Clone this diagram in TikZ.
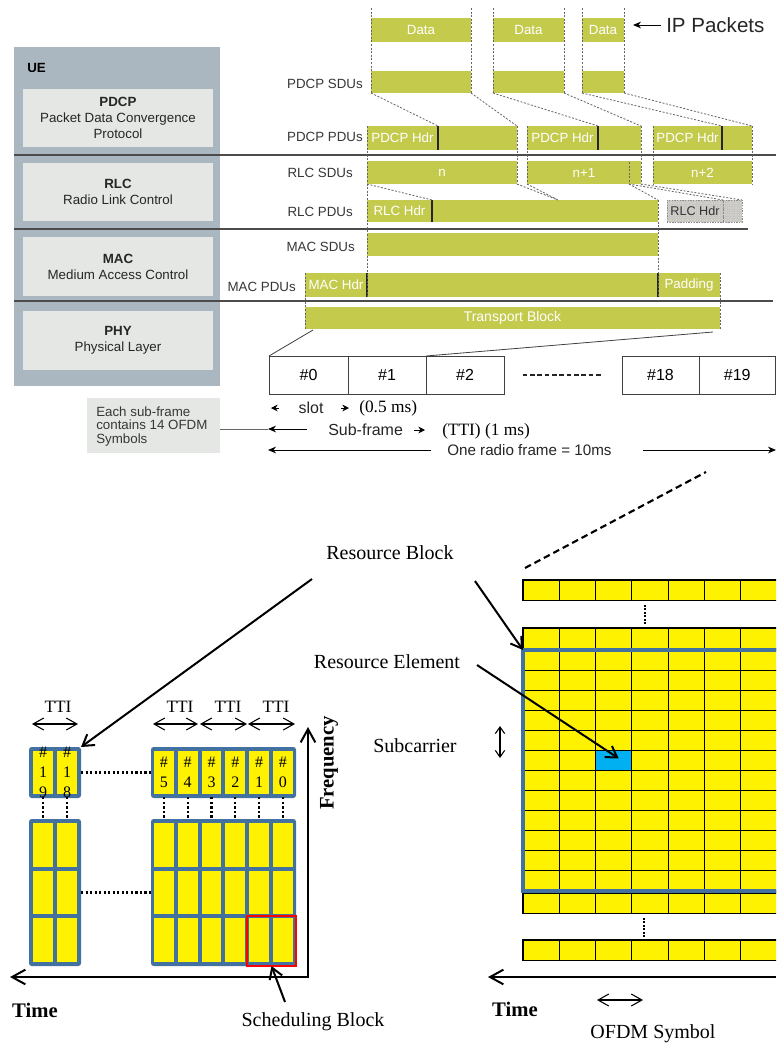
\documentclass[tikz,border=0pt]{standalone}
\usepackage{fontspec}
\setmainfont{Liberation Sans}
\newfontfamily\tnr{Liberation Serif}
\usetikzlibrary{arrows.meta,fit,calc}
\definecolor{lteg}{RGB}{196,202,76}
\definecolor{uegrey}{RGB}{170,183,192}
\definecolor{boxgrey}{RGB}{228,231,228}
\definecolor{rbblue}{RGB}{68,114,160}
\definecolor{reblue}{RGB}{0,176,240}
\definecolor{hatchc}{RGB}{214,208,196}
\definecolor{txtgrey}{RGB}{55,55,55}
\newcommand\fs[1]{\fontsize{#1}{#1}\selectfont}
\newcommand\bx[7]{\node[inner sep=0pt,outer sep=0pt,#6,fit={(#2,#3)(#4,#5)}] (#1) {};
  \node[inner sep=0pt,#6,fill=none,draw=none] (#1-t) at (#1.center) {#7};}
\tikzset{
  gb/.style={fill=lteg,text=white,font={\fs{10}}},
  lab/.style={text=txtgrey,font={\fs{10}},inner sep=0pt},
  dsh/.style={draw=black!60,dash pattern=on 1.5pt off 1.2pt,line width=0.6pt},
  sepl/.style={draw=black!70,line width=1.1pt},
  div/.style={draw=black!85,line width=0.9pt},
  sf/.style={draw=black!75,line width=0.6pt,fill=white,font={\fs{12}}},
  lay/.style={fill=boxgrey,align=center,font={\fs{10}},text=black!85},
  ser/.style={font={\tnr\fs{15}},inner sep=0pt},
  serb/.style={font={\tnr\bfseries\fs{15.5}},inner sep=0pt},
  cell/.style={fill=yellow,draw=black,line width=0.8pt},
  cellnum/.style={font={\tnr\fontsize{12}{15}\selectfont},align=center,inner sep=0pt},
  dots/.style={draw=black,line width=1.6pt,dash pattern=on 1.6pt off 1.8pt},
  bigarr/.style={draw=black,line width=1.5pt,-{Straight Barb[length=8pt,width=10pt]}},
  axis/.style={draw=black,line width=1.5pt,{Straight Barb[length=10pt,width=11pt]}-{Straight Barb[length=10pt,width=11pt]}},
  tti/.style={draw=black,line width=0.8pt,{Straight Barb[length=8pt,width=9pt]}-{Straight Barb[length=8pt,width=9pt]}},
  smallhead/.style={draw=black,line width=0.6pt,-{Stealth[length=5pt,width=5pt]}},
}
\begin{document}
\begin{tikzpicture}[x=0.75pt,y=-0.75pt]
\useasboundingbox (0,0) rectangle (776,1046);
\begin{scope}
\clip (0,0) rectangle (776,1046);
\fill[white] (0,0) rectangle (776,1046);

% ---------------- protocol stack ----------------
\bx{ue}{14}{47}{220}{386}{fill=uegrey}{}
\node[font={\bfseries\fs{10}},anchor=west,inner sep=0pt] (uel) at (27,68) {UE};
\bx{pdcp}{23}{89}{213}{147}{lay}{{\bfseries PDCP}\\[2pt]Packet Data Convergence\\[2pt]Protocol}
\bx{rlc}{23}{163}{213}{221}{lay}{{\bfseries RLC}\\[2pt]Radio Link Control}
\bx{mac}{23}{237}{213}{296}{lay}{{\bfseries MAC}\\[2pt]Medium Access Control}
\bx{phy}{23}{311}{213}{370}{lay}{{\bfseries PHY}\\[2pt]Physical Layer}

\draw[sepl] (14,155) -- (776,155);
\draw[sepl] (14,229) -- (748,229);
\draw[sepl] (14,301) -- (773,301);

\node[lab,anchor=east] (l1) at (363,84) {PDCP SDUs};
\node[lab,anchor=east] (l2) at (363,137) {PDCP PDUs};
\node[lab,anchor=east] (l3) at (353,173) {RLC SDUs};
\node[lab,anchor=east] (l4) at (353,212) {RLC PDUs};
\node[lab,anchor=east] (l5) at (355,247) {MAC SDUs};
\node[lab,anchor=east] (l6) at (296,287) {MAC PDUs};

% IP packets
\bx{d1}{371}{18}{471}{42}{gb}{Data}
\bx{d2}{493}{18}{564}{42}{gb}{Data}
\bx{d3}{582}{18}{624}{42}{gb}{Data}
\node[font={\fs{15.4}},anchor=west,inner sep=0pt,text=black!85] (ip) at (666,25) {IP Packets};
\coordinate (ipa) at (633,25);
\draw[black,line width=0.7pt,-{Stealth[length=6pt,width=5pt]}] ($(ip.west)+(-5,0)$) -- (ipa);

% PDCP SDUs
\bx{s1}{371}{71}{471}{93}{gb}{}
\bx{s2}{493}{71}{564}{93}{gb}{}
\bx{s3}{582}{71}{624}{93}{gb}{}

% PDCP PDUs
\bx{h1}{367}{126}{438}{150}{gb}{PDCP Hdr}
\bx{p1}{438}{126}{517}{150}{gb}{}
\bx{h2}{527}{126}{598}{150}{gb}{PDCP Hdr}
\bx{p2}{598}{126}{641}{150}{gb}{}
\bx{h3}{653}{126}{722}{150}{gb}{PDCP Hdr}
\bx{p3}{722}{126}{752}{150}{gb}{}
\foreach \h in {h1,h2,h3} \draw[div] (\h.north east) -- (\h.south east);

% RLC SDUs
\bx{r1}{367}{161}{517}{184}{gb}{n}
\bx{r2}{527}{161}{641}{184}{gb}{n+1}
\bx{r3}{653}{161}{752}{184}{gb}{n+2}

% RLC PDUs
\bx{rh1}{367}{200}{432}{222}{gb}{RLC Hdr}
\bx{rp1}{432}{200}{658}{222}{gb}{}
\draw[div] (rh1.north east) -- (rh1.south east);
\node[inner sep=0pt,outer sep=0pt,fill=hatchc,fit={(667,200)(742,222)}] (rgrey) {};
\begin{scope}
\clip (667,200) rectangle (742,222);
\draw[black!22,line width=0.3pt,step=1.8pt] (660,195) grid (750,230);
\end{scope}
\bx{rh2}{667}{200}{723}{222}{draw=black!45,dash pattern=on 1pt off 1pt,font={\fs{9.5}},text=black!80}{RLC Hdr}
\bx{rp2}{723}{200}{742}{222}{draw=black!45,dash pattern=on 1pt off 1pt}{}

% MAC
\bx{m1}{367}{233}{658}{256}{gb}{}
\bx{mh}{305}{273}{367}{297}{gb}{MAC Hdr}
\bx{mp}{367}{273}{658}{297}{gb}{}
\bx{pad}{658}{273}{720}{297}{gb}{Padding}
\draw[div] (mh.north east) -- (mh.south east);
\draw[div] (pad.north west) -- (pad.south west);

% PHY
\bx{tb}{305}{307}{720}{329}{gb,font={\fs{10.5}}}{Transport Block}

% dashed guides
\draw[dsh] ($(d1.north west)+(0,-10)$) -- (s1.south west);
\draw[dsh] ($(d1.north east)+(0,-10)$) -- (s1.south east);
\draw[dsh] ($(d2.north west)+(0,-10)$) -- (s2.south west);
\draw[dsh] ($(d2.north east)+(0,-10)$) -- (s2.south east);
\draw[dsh] ($(d3.north west)+(0,-10)$) -- (s3.south west);
\draw[dsh] ($(d3.north east)+(0,-10)$) -- (s3.south east);
\draw[dsh] (s1.south west) -- (h1.north east);
\draw[dsh] (s1.south east) -- (p1.north east);
\draw[dsh] (s2.south west) -- (h2.north east);
\draw[dsh] (s2.south east) -- (p2.north east);
\draw[dsh] (s3.south west) -- (h3.north east);
\draw[dsh] (s3.south east) -- (p3.north east);
\draw[dsh] (h1.north west) -- (mh.south east);
\draw[dsh] (p1.north east) -- (r1.south east);
\draw[dsh] (h2.north west) -- (r2.south west);
\draw[dsh] (p2.north east) -- (r2.south east);
\draw[dsh] (h3.north west) -- (r3.south west);
\draw[dsh] (p3.north east) -- (r3.south east);
\coordinate (segt) at (629,162);
\coordinate (segb) at (629,184);
\coordinate (rmid) at (558,200);
\draw[dsh] (segt) -- (segb);
\draw[dsh] (r1.south west) -- (rh1.north east);
\draw[dsh] (r1.south east) -- (rmid);
\draw[dsh] (r2.south west) -- (rmid);
\draw[dsh] (segb) -- (rp1.north east);
\draw[dsh] (segb) -- (rp2.north west);
\draw[dsh] (r2.south east) -- (rp2.north east);
\draw[dsh] (rp1.north east) -- (pad.south west);
\draw[dsh] (mh.north west) -- (tb.south west);
\draw[dsh] (pad.north east) -- (tb.south east);

% sub-frames
\bx{sf0}{269}{356}{348}{394}{sf}{\#0}
\bx{sf1}{348}{356}{426}{394}{sf}{\#1}
\bx{sf2}{426}{356}{504}{394}{sf}{\#2}
\bx{sf18}{622}{356}{699}{394}{sf}{\#18}
\bx{sf19}{699}{356}{775.5}{394}{sf}{\#19}
\draw[black!75,line width=0.6pt] ($(tb.south west)+(8,1)$) -- (sf0.north west);
\draw[black!75,line width=0.6pt] ($(tb.south east)+(-7,3)$) -- (sf1.north east);
\draw[black!85,line width=2pt,dash pattern=on 3.5pt off 2pt,shorten <=14pt,shorten >=15pt] (sf2.east) -- (sf18.west);

% timing labels
\node[font={\fs{12}},inner sep=0pt,text=black!85] (slot) at (311,408) {slot};
\draw[smallhead] (279,408) -- (271,408);
\draw[smallhead] (341,408) -- (349,408);
\node[font={\tnr\fs{13}},anchor=west,inner sep=0pt] (half) at (359,408) {(0.5 ms)};

\bx{note}{87}{398}{220}{453}{fill=boxgrey}{}
\node[anchor=west,align=left,font={\fs{10}},inner sep=0pt,text=txtgrey] (notet) at (96,426.5) {\fontsize{10}{11.6}\selectfont Each sub-frame\\contains 14 OFDM\\Symbols};
\coordinate (nc) at (220,429);
\coordinate (sfa) at (268,429);
\draw[black!60,line width=0.6pt] (nc) -- (sfa);
\draw[black,line width=0.6pt,-{Stealth[length=6pt,width=5pt]}] (307,429) -- (sfa);
\node[font={\fs{12}},anchor=west,inner sep=0pt,text=black!85] (subf) at (328,430) {Sub-frame};
\draw[smallhead] (414,430) -- (425,430);
\node[font={\tnr\fs{13}},anchor=west,inner sep=0pt] (tti1) at (442,431) {(TTI) (1 ms)};

\node[font={\fs{11.4}},anchor=west,inner sep=0pt,text=black!85] (orf) at (447,450) {One radio frame = 10ms};
\draw[black,line width=0.6pt,-{Stealth[length=6pt,width=5pt]}] (431,450) -- (268,450);
\draw[black,line width=0.6pt,-{Stealth[length=6pt,width=5pt]}] (643,450) -- (776,450);

% ---------------- resource grid (left) ----------------
\bx{tl}{29}{747}{81}{798}{fill=rbblue,rounded corners=2pt}{}
\bx{tr}{151}{747}{296}{798}{fill=rbblue,rounded corners=2pt}{}
\bx{bl}{29}{819}{81}{966}{fill=rbblue,rounded corners=2pt}{}
\bx{br}{151}{819}{296}{966}{fill=rbblue,rounded corners=2pt}{}
\foreach \i/\a/\b in {0/1/9,1/1/8}{
  \bx{tlc\i}{33+24*\i}{751}{53+24*\i}{794}{fill=yellow}{}
  \node[cellnum] at (tlc\i) {\#\\\a\\\b};
}
\foreach \i/\d in {0/5,1/4,2/3,3/2,4/1,5/0}{
  \bx{trc\i}{154+23.8*\i}{751}{173.8+23.8*\i}{794}{fill=yellow}{}
  \node[cellnum] at (trc\i) {\#\\\d};
}
\foreach \j in {0,1,2}{
  \foreach \i in {0,1}{
    \bx{blc\i-\j}{33+24*\i}{823+47.65*\j}{53+24*\i}{866.7+47.65*\j}{fill=yellow}{}
  }
  \foreach \i in {0,...,5}{
    \bx{brc\i-\j}{154+23.8*\i}{823+47.65*\j}{173.8+23.8*\i}{866.7+47.65*\j}{fill=yellow}{}
  }
}
\foreach \i in {0,1} \draw[dots,shorten <=2.5pt,shorten >=2.5pt] (tlc\i.south) -- (blc\i-0.north);
\foreach \i in {0,...,5} \draw[dots,shorten <=2.5pt,shorten >=2.5pt] (trc\i.south) -- (brc\i-0.north);
\draw[dots] (tl.east) -- (tr.west);
\draw[dots] (bl.east) -- (br.west);
\bx{red}{247}{916}{296}{966}{draw=red,line width=2.2pt}{}

\node[font={\tnr\fs{13}},inner sep=0pt] (t0) at (58,707) {TTI};
\node[font={\tnr\fs{13}},inner sep=0pt] (t1) at (180,707) {TTI};
\node[font={\tnr\fs{13}},inner sep=0pt] (t2) at (228,707) {TTI};
\node[font={\tnr\fs{13}},inner sep=0pt] (t3) at (276,707) {TTI};
\draw[tti] (32,724) -- (78,724);
\draw[tti] (153,724) -- (198,724);
\draw[tti] (200,724) -- (247,724);
\draw[tti] (248,724) -- (295,724);

\coordinate (orig) at (308,977);
\draw[axis] (308,727) -- (orig) -- (10,977);
\node[serb] (timel) at (35,1010) {Time};
\node[serb,rotate=90] (freq) at (329,763) {Frequency};
\node[ser] (sbt) at (313,1022) {Scheduling Block};
\coordinate (sbs) at (285,1002);
\draw[bigarr] (sbs) -- (red.south);

% ---------------- resource grid (right) ----------------
\foreach \y in {580,628,893,940}{
  \foreach \i in {0,...,7} \draw[cell] ({523+36.3*\i},\y) rectangle ++(36.3,20.5);
}
\foreach \j in {0,...,11}{
  \foreach \i in {0,...,7} \draw[cell] ({523+36.3*\i},{650+20.08*\j}) rectangle ++(36.3,20.08);
}
\bx{re}{595.6}{750.4}{631.9}{770.5}{fill=reblue,draw=black,line width=0.8pt}{}
\bx{rb}{523}{650}{800}{891}{draw=rbblue,line width=2.8pt}{}
\draw[black,line width=1.3pt,dash pattern=on 1.3pt off 1.3pt] (645,605) -- (645,625);
\draw[black,line width=1.3pt,dash pattern=on 1.3pt off 1.3pt] (644,918) -- (644,938);

\coordinate (dl1) at (525,568);
\coordinate (dl2) at (706,472);
\draw[black,line width=1.6pt,dash pattern=on 5pt off 3pt] (dl1) -- (dl2);

\node[ser] (rbt) at (390,553) {Resource Block};
\coordinate (rba) at (312,579);
\coordinate (rbb) at (475,581);
\draw[bigarr] (rba) -- (tl.north east);
\draw[bigarr] (rbb) -- (rb.north west);
\node[ser] (ret) at (387,662) {Resource Element};
\coordinate (rea) at (477,665);
\draw[bigarr] (rea) -- ($(re.center)+(5,-2)$);
\node[ser] (sct) at (415,746) {Subcarrier};
\draw[draw=black,line width=0.8pt,{Straight Barb[length=5pt,width=7pt]}-{Straight Barb[length=5pt,width=7pt]}] (500,726) -- (500,758);

\coordinate (taxr) at (776,977);
\draw[draw=black,line width=1.5pt,-{Straight Barb[length=10pt,width=11pt]}] (taxr) -- (488,977);
\node[serb] (timer) at (515,1009) {Time};
\draw[draw=black,line width=0.8pt,{Straight Barb[length=8pt,width=9pt]}-{Straight Barb[length=8pt,width=9pt]}] (597,1000) -- (643,1000);
\node[ser] (ofdm) at (653,1034) {OFDM Symbol};
\end{scope}
\end{tikzpicture}
\end{document}
